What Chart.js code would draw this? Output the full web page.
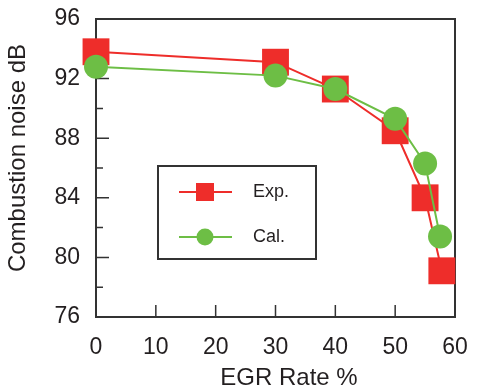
<!DOCTYPE html>
<html>
<head>
<meta charset="utf-8">
<script src="https://cdn.jsdelivr.net/npm/chart.js@4/dist/chart.umd.min.js"></script>
<style>
	html, body { margin: 0; padding: 0; background: #fff; }
	#wrap { width: 488px; height: 391px; position: relative; }
</style>
</head>
<body>
<div id="wrap"><canvas id="noise-plot"></canvas></div>
<script>

// values
const egrExp = [ 0, 30, 40, 50, 55, 57.8 ];
const noiseExp = [ 93.8, 93.1, 91.3, 88.5, 84.0, 79.1 ];

const egrCal = [ 0, 30, 40, 50, 55, 57.5 ];
const noiseCal = [ 92.8, 92.2, 91.3, 89.3, 86.3, 81.4 ];

const xTicks = [ 0, 10, 20, 30, 40, 50, 60 ];
const yTicks = [ 76, 80, 84, 88, 92, 96 ];

const xTitle = 'EGR Rate %';
const yTitle = 'Combustion noise dB';

const RED = '#ee2d2a';
const GREEN = '#6dbe45';
const INK = '#231f20';
const FONT = '"Liberation Sans", Arial, sans-serif';

Chart.defaults.font.family = FONT;
Chart.defaults.color = INK;

const toPoints = ( xs, ys ) => xs.map( ( x, i ) => ( { x: x, y: ys[ i ] } ) );

// frame + inward ticks, drawn under the markers
const framePlugin = {
	id: 'frame',
	beforeDatasetsDraw( chart ) {

		const { ctx, chartArea: a, scales } = chart;

		ctx.save();
		ctx.strokeStyle = '#333';
		ctx.lineWidth = 2;
		ctx.strokeRect( a.left, a.top, a.right - a.left, a.bottom - a.top );

		ctx.lineWidth = 1.5;
		ctx.beginPath();
		scales.y.ticks.forEach( ( t ) => {
			const py = scales.y.getPixelForValue( t.value );
			const len = t.value % 4 === 0 ? 13 : 7;
			ctx.moveTo( a.left, py );
			ctx.lineTo( a.left + len, py );
		} );
		scales.x.ticks.forEach( ( t ) => {
			const px = scales.x.getPixelForValue( t.value );
			ctx.moveTo( px, a.bottom );
			ctx.lineTo( px, a.bottom - 12 );
		} );
		ctx.stroke();
		ctx.restore();

	}
};

// axis titles + boxed legend inside the plot
const labelPlugin = {
	id: 'labels',
	afterDraw( chart ) {

		const { ctx, chartArea: a } = chart;

		ctx.save();
		ctx.fillStyle = INK;
		ctx.font = '24px ' + FONT;
		ctx.textAlign = 'center';
		ctx.textBaseline = 'middle';
		ctx.fillText( xTitle, a.left + 193, 378 );

		ctx.translate( 18, a.top + 139 );
		ctx.rotate( -Math.PI / 2 );
		ctx.fillText( yTitle, 0, 0 );
		ctx.restore();

		// legend
		const bx = a.left + 62, by = a.top + 147, bw = 158, bh = 93;
		ctx.save();
		ctx.strokeStyle = '#333';
		ctx.lineWidth = 2;
		ctx.strokeRect( bx, by, bw, bh );

		ctx.font = '18px ' + FONT;
		ctx.textBaseline = 'middle';
		chart.data.datasets.slice().sort( ( p, q ) => q.order - p.order ).forEach( ( ds, i ) => {
			const ly = by + 26 + i * 45;
			ctx.strokeStyle = ds.borderColor;
			ctx.lineWidth = 2;
			ctx.beginPath();
			ctx.moveTo( bx + 21, ly );
			ctx.lineTo( bx + 74, ly );
			ctx.stroke();
			ctx.fillStyle = ds.backgroundColor;
			if ( ds.pointStyle === 'rect' ) ctx.fillRect( bx + 38, ly - 9, 18, 18 );
			else {
				ctx.beginPath();
				ctx.arc( bx + 47, ly, 8.5, 0, Math.PI * 2 );
				ctx.fill();
			}
			ctx.fillStyle = INK;
			ctx.fillText( ds.label, bx + 95, ly );
		} );
		ctx.restore();

	}
};

const noiseData = {
	datasets: [ {
		label: 'Exp.',
		data: toPoints( egrExp, noiseExp ),
		showLine: true,
		borderColor: RED,
		backgroundColor: RED,
		borderWidth: 2,
		pointStyle: 'rect',
		pointRadius: 19,
		pointBorderWidth: 0,
		order: 1,
		clip: false
	}, {
		label: 'Cal.',
		data: toPoints( egrCal, noiseCal ),
		showLine: true,
		borderColor: GREEN,
		backgroundColor: GREEN,
		borderWidth: 2,
		pointStyle: 'circle',
		pointRadius: 12,
		pointBorderWidth: 0,
		order: 0,
		clip: false
	} ]
};

const noiseConfig = {
	type: 'scatter',
	data: noiseData,
	plugins: [ framePlugin, labelPlugin ],
	options: {
		responsive: true,
		maintainAspectRatio: false,
		animation: false,
		layout: {
			padding: { left: 0, right: 33, top: 18, bottom: 0 }
		},
		plugins: {
			legend: { display: false },
			tooltip: { enabled: false }
		},
		scales: {
			x: {
				type: 'linear',
				min: xTicks[ 0 ],
				max: xTicks[ xTicks.length - 1 ],
				afterBuildTicks: ( s ) => { s.ticks = xTicks.map( ( v ) => ( { value: v } ) ); },
				afterFit: ( s ) => { s.height = 74; s.paddingLeft = 0; s.paddingRight = 0; },
				grid: { display: false, drawTicks: false },
				border: { display: false },
				ticks: {
					autoSkip: false,
					maxRotation: 0,
					padding: 17,
					font: { size: 23 }
				}
			},
			y: {
				type: 'linear',
				min: yTicks[ 0 ],
				max: yTicks[ yTicks.length - 1 ],
				afterFit: ( s ) => { s.width = 96; s.paddingTop = 0; s.paddingBottom = 0; },
				grid: { display: false, drawTicks: false },
				border: { display: false },
				ticks: {
					stepSize: 2,
					autoSkip: false,
					padding: 16,
					font: { size: 23 },
					callback: ( v ) => ( yTicks.includes( v ) ? v : '' )
				}
			}
		}
	}
};

const noiseChart = new Chart( document.getElementById( 'noise-plot' ), noiseConfig );

</script>
</body>
</html>
